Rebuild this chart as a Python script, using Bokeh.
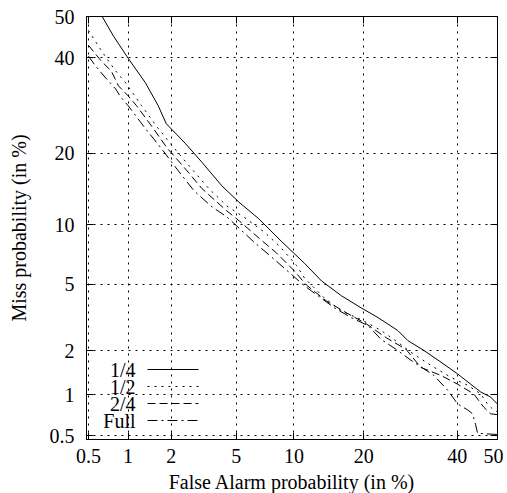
from statistics import NormalDist
from bokeh.plotting import figure
from bokeh.models import FixedTicker, LinearAxis, Label, Arrow, Range1d
from bokeh.embed import file_html
from bokeh.resources import INLINE

# ---- data (percent) ----
tick_values = [0.5, 1, 2, 5, 10, 20, 40, 50]
tick_labels = ["0.5", "1", "2", "5", "10", "20", "40", "50"]

fa_quarter = [0.64, 0.78, 1.00, 1.33, 1.63, 1.85, 2.46, 3.14, 4.13, 5.17, 6.63, 8.69, 11.2,
              13.4, 16.3, 19.5, 22.6, 26.5, 28.6, 32.1, 36.1, 40.1, 43.3, 45.8, 48.2, 50.0]
miss_quarter = [50.0, 45.2, 39.9, 34.2, 29.2, 25.5, 21.8, 18.5, 14.9, 12.7, 10.7, 8.34, 6.47,
                5.2, 4.3, 3.67, 3.21, 2.68, 2.32, 2.01, 1.68, 1.40, 1.19, 1.05, 0.97, 0.86]

fa_half = [0.50, 0.60, 0.69, 0.81, 0.96, 1.25, 1.61, 2.09, 2.72, 3.46, 4.42, 5.50, 7.05, 8.50,
           10.28, 11.21, 13.78, 16.26, 19.54, 23.18, 26.55, 29.29, 33.73, 38.42, 42.54, 45.76,
           47.50, 49.00, 50.0]
miss_half = [46.6, 42.75, 39.9, 36.9, 34.2, 29.2, 24.8, 20.9, 17.4, 14.5, 12.2, 10.9, 9.3, 7.9,
             6.3, 5.4, 4.18, 3.52, 3.12, 2.68, 2.26, 1.95, 1.60, 1.33, 1.17, 1.02,
             0.86, 0.78, 0.755]

fa_24 = [0.50, 0.63, 0.75, 0.85, 1.00, 1.15, 1.49, 1.88, 2.42, 3.14, 4.42, 5.23, 6.71, 8.21,
         9.96, 11.45, 14.06, 17.05, 20.41, 24.14, 28.22, 31.47, 36.05, 40.11, 44.02, 46.50,
         48.25, 50.0]
miss_24 = [43.0, 39.2, 36.9, 33.5, 31.3, 29.2, 24.8, 20.9, 17.7, 14.5, 11.6, 10.4, 8.6, 7.3,
           5.95, 4.94, 4.02, 3.43, 2.95, 2.42, 2.04, 1.55, 1.37, 1.19, 1.02, 0.82,
           0.73, 0.72]

fa_full = [0.50, 0.57, 0.68, 0.81, 0.89, 1.00, 1.31, 1.71, 2.18, 2.80, 3.61, 4.42, 5.23, 6.24,
           7.57, 9.21, 11.09, 12.07, 15.21, 17.85, 20.77, 23.18, 26.14, 29.29, 34.42, 37.70,
           40.11, 42.54, 43.78, 44.52, 45.01, 50.0]
miss_full = [40.4, 38.0, 35.3, 32.8, 30.9, 29.2, 24.8, 20.9, 17.4, 14.2, 12.1, 10.9, 9.6, 8.3,
             7.1, 5.95, 4.94, 4.58, 3.67, 3.21, 2.87, 2.36, 2.04, 1.73, 1.37, 1.08,
             0.86, 0.78, 0.73, 0.605, 0.52, 0.51]

series_names = ["1/4", "1/2", "2/4", "Full"]
series_dash = ["solid", "2 5", "8 4", "10 4 2 4"]

nd = NormalDist()


def probit(values):
    return [nd.inv_cdf(v / 100.0) for v in values]


FONT = "Liberation Serif"
FS = "20px"

p = figure(width=503, height=499,
           x_range=Range1d(-2.588, 0.0), y_range=Range1d(-2.60, 0.0),
           output_backend="svg", toolbar_location=None,
           min_border_left=86, min_border_right=6, min_border_top=16, min_border_bottom=60)
p.outline_line_color = "black"
p.background_fill_color = "white"
p.border_fill_color = "white"

ticks = probit(tick_values)
overrides = {t: l for t, l in zip(ticks, tick_labels)}
blank = {t: "" for t in ticks}

p.add_layout(LinearAxis(), "above")
p.add_layout(LinearAxis(), "right")

for ax in p.axis:
    ax.ticker = FixedTicker(ticks=ticks)
    ax.major_label_overrides = overrides
    ax.major_tick_in = 7
    ax.major_tick_out = 0
    ax.minor_tick_in = 0
    ax.minor_tick_out = 0
    ax.axis_line_color = "black"
    ax.major_tick_line_color = "black"
    ax.major_label_text_font = FONT
    ax.major_label_text_font_size = FS
    ax.major_label_text_color = "black"
    ax.axis_label_text_font = FONT
    ax.axis_label_text_font_size = FS
    ax.axis_label_text_font_style = "normal"
    ax.axis_label_text_color = "black"

for ax in p.above + p.right:
    ax.major_label_overrides = blank
    ax.major_label_standoff = 0

p.below[0].axis_label = "False Alarm probability (in %)"
p.left[0].axis_label = "Miss probability (in %)"
p.below[0].major_label_standoff = 9
p.below[0].axis_label_standoff = 5
p.left[0].major_label_standoff = 12
p.left[0].axis_label_standoff = 17

for g in (p.xgrid[0], p.ygrid[0]):
    g.ticker = FixedTicker(ticks=ticks)
    g.grid_line_color = "black"
    g.grid_line_dash = "2 5"
    g.grid_line_width = 1

series = [(fa_quarter, miss_quarter), (fa_half, miss_half), (fa_24, miss_24), (fa_full, miss_full)]
for (fa, miss), dash in zip(series, series_dash):
    p.line(probit(fa), probit(miss), line_color="black", line_width=1, line_dash=dash)

# legend (label right-aligned, sample line to the right)
for i, (name, dash) in enumerate(zip(series_names, series_dash)):
    yy = 70 - 17 * i
    p.add_layout(Label(x=49, y=yy, x_units="screen", y_units="screen", text=name,
                       text_align="right", text_baseline="middle", text_font=FONT,
                       text_font_size=FS, text_color="black"))
    p.add_layout(Arrow(x_start=61, y_start=yy, x_end=112, y_end=yy,
                       start_units="screen", end_units="screen", start=None, end=None,
                       line_color="black", line_width=1, line_dash=dash))

open("out.html", "w").write(file_html(p, INLINE))
